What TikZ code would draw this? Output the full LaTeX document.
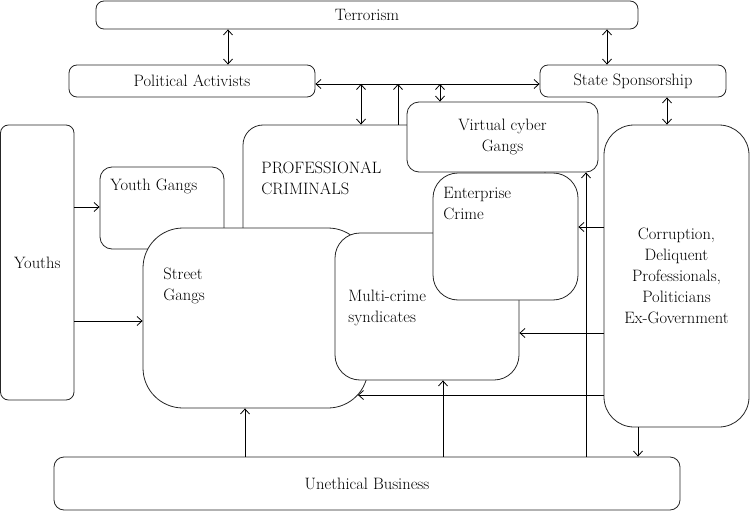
\documentclass[tikz,border=0pt]{standalone}
\usepackage{fontspec}
\usetikzlibrary{arrows.meta,calc}

\begin{document}
\begin{tikzpicture}[x=1pt,y=-1pt,line width=.8pt,>={Straight Barb[length=5pt,width=9pt]},
  box/.style={draw=black!85,fill=white,rounded corners=#1,inner sep=0pt,align=center,font=\fontsize{16.5}{21}\selectfont},
  box/.default=8pt,
  lbl/.style={anchor=west,inner sep=0pt,align=left,font=\fontsize{16.5}{21}\selectfont}]

\useasboundingbox (0,0) rectangle (750,511);

\node[box,minimum width=542pt,minimum height=28pt] (terr) at (367,15) {Terrorism};
\node[box,minimum width=246pt,minimum height=32pt] (pa) at (192,81) {Political Activists};
\node[box,minimum width=186pt,minimum height=32pt] (ss) at (633,81) {State Sponsorship};
\node[box,minimum width=73.5pt,minimum height=275pt] (yth) at (37.25,262.5) {Youths};

\node[box=20pt,minimum width=302pt,minimum height=160pt] (pc) at (394,205) {};
\node[lbl] (pct) at (261,178.5) {PROFESSIONAL\\CRIMINALS};
\node[box=12pt,minimum width=124pt,minimum height=82pt] (yg) at (162,208) {};
\node[lbl] (ygt) at (110,186) {Youth Gangs};
\node[box=40pt,minimum width=225pt,minimum height=180pt] (sg) at (255.5,318) {};
\node[lbl] (sgt) at (163,285.5) {Street\\Gangs};
\node[box=25pt,minimum width=184pt,minimum height=147pt] (ms) at (427,306.5) {};
\node[lbl] (mst) at (348,307.5) {Multi-crime\\syndicates};
\node[box=25pt,minimum width=145pt,minimum height=127pt] (ec) at (505.5,236.5) {};
\node[lbl] (ect) at (443,203.5) {Enterprise\\Crime};
\node[box=12pt,minimum width=191pt,minimum height=70pt] (vc) at (502.5,137) {Virtual cyber\\Gangs};

\node[box=30pt,minimum width=145pt,minimum height=302pt] (cor) at (676.5,276) {Corruption,\\Deliquent\\Professionals,\\Politicians\\Ex-Government};
\node[box=10pt,minimum width=626pt,minimum height=53pt] (ub) at (367,483.5) {Unethical Business};

\coordinate (bus) at (450,84);
\draw[<->] (pa.east |- bus) -- (ss.west |- bus);
\draw[<->] (terr.south -| 228,0) -- (pa.north -| 228,0);
\draw[<->] (terr.south -| 607,0) -- (ss.north -| 607,0);
\draw[<->] (ss.south -| 667,0) -- (cor.north -| 667,0);
\draw[<->] (bus -| 361,0) -- (pc.north -| 361,0);
\draw[->] (pc.north -| 398,0) -- (bus -| 398,0);
\draw[<->] (bus -| 440,0) -- (vc.north -| 440,0);

\draw[->] (yth.east |- 0,207) -- (yg.west |- 0,207);
\draw[->] (yth.east |- 0,321) -- (sg.west |- 0,321);

\draw[->] (cor.west |- 0,227) -- (ec.east |- 0,227);
\draw[->] (cor.west |- 0,333) -- (ms.east |- 0,333);
\draw[->] (cor.west |- 0,395) -- ($(sg.east |- 0,395)+(-10.5,0)$);
\draw[->] (cor.south -| 638,0) -- (ub.north -| 638,0);

\draw[->] (ub.north -| 245,0) -- (sg.south -| 245,0);
\draw[->] (ub.north -| 443,0) -- (ms.south -| 443,0);
\draw[->] (ub.north -| 586,0) -- (vc.south -| 586,0);

\end{tikzpicture}
\end{document}
